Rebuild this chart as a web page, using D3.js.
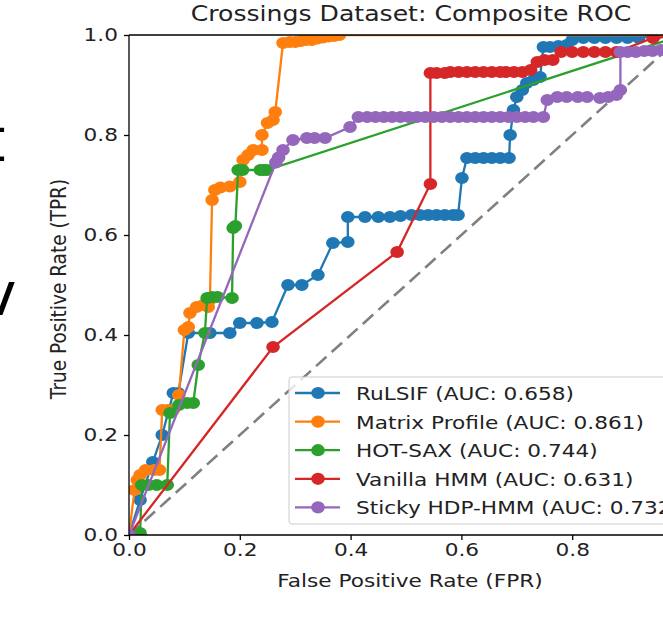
<!DOCTYPE html>
<html lang="en">
  <head>
    <meta charset="utf-8">
    <title>Crossings Dataset: Composite ROC</title>
    <script src="https://d3js.org/d3.v7.min.js"></script>
    <style>
      body { margin: 0; background: #fff; }
      text { font-family: "DejaVu Sans", sans-serif; }
    </style>
  </head>
  <body>
    <div id="chart"></div>
    <script>

// ROC points, [FPR, TPR]
var rulsif = [[0,0],[0.02,0.07],[0.043,0.146],[0.06,0.2],[0.08,0.284],[0.089,0.284],[0.107,0.404],[0.146,0.404],[0.182,0.404],[0.2,0.424],[0.231,0.424],[0.258,0.426],[0.287,0.5],[0.312,0.5],[0.341,0.52],[0.368,0.584],[0.395,0.586],[0.395,0.636],[0.426,0.636],[0.45,0.636],[0.471,0.636],[0.49,0.638],[0.51,0.64],[0.525,0.64],[0.54,0.64],[0.555,0.64],[0.57,0.64],[0.585,0.64],[0.594,0.64],[0.601,0.714],[0.61,0.754],[0.625,0.754],[0.64,0.754],[0.655,0.754],[0.67,0.754],[0.686,0.754],[0.688,0.8],[0.694,0.85],[0.7,0.876],[0.71,0.89],[0.718,0.904],[0.73,0.91],[0.742,0.916],[0.748,0.976],[0.76,0.976],[0.775,0.978],[0.79,0.98],[0.8,0.99],[0.82,0.994],[0.84,0.994],[0.86,0.994],[0.88,0.994],[0.9,0.994],[0.92,0.994],[0.95,1],[1,1]];

var matrixProfile = [[0,0],[0.01,0.09],[0.015,0.11],[0.02,0.12],[0.03,0.13],[0.045,0.13],[0.055,0.13],[0.06,0.25],[0.07,0.25],[0.08,0.25],[0.09,0.28],[0.1,0.41],[0.107,0.416],[0.11,0.444],[0.122,0.456],[0.134,0.46],[0.143,0.456],[0.146,0.47],[0.15,0.67],[0.155,0.69],[0.165,0.695],[0.182,0.697],[0.2,0.706],[0.206,0.75],[0.215,0.76],[0.224,0.77],[0.24,0.77],[0.24,0.8],[0.25,0.824],[0.26,0.83],[0.264,0.846],[0.278,0.984],[0.29,0.986],[0.3,0.986],[0.31,0.988],[0.32,0.99],[0.33,0.99],[0.34,0.993],[0.35,0.995],[0.36,0.997],[0.37,0.998],[0.38,1],[1,1]];

var hotSax = [[0,0],[0.02,0.004],[0.023,0.1],[0.035,0.1],[0.05,0.1],[0.069,0.1],[0.074,0.244],[0.09,0.26],[0.105,0.264],[0.116,0.264],[0.125,0.34],[0.137,0.404],[0.141,0.474],[0.15,0.476],[0.16,0.476],[0.186,0.474],[0.188,0.614],[0.192,0.618],[0.197,0.73],[0.205,0.73],[0.237,0.73],[0.243,0.73],[0.249,0.73],[1,1]];

var vanillaHmm = [[0,0],[0.26,0.376],[0.484,0.566],[0.544,0.702],[0.544,0.924],[0.555,0.924],[0.57,0.924],[0.58,0.926],[0.595,0.926],[0.61,0.926],[0.625,0.926],[0.64,0.926],[0.655,0.926],[0.67,0.926],[0.68,0.926],[0.695,0.926],[0.71,0.926],[0.725,0.93],[0.737,0.946],[0.75,0.95],[0.765,0.95],[0.78,0.966],[0.8,0.966],[0.82,0.966],[0.84,0.966],[0.86,0.966],[0.88,0.966],[0.946,0.994],[1,1]];

var stickyHdp = [[0,0],[0.265,0.745],[0.27,0.755],[0.278,0.77],[0.296,0.79],[0.321,0.794],[0.335,0.794],[0.354,0.794],[0.399,0.816],[0.414,0.836],[0.43,0.836],[0.445,0.836],[0.46,0.836],[0.475,0.836],[0.49,0.836],[0.505,0.836],[0.52,0.836],[0.535,0.836],[0.55,0.836],[0.565,0.836],[0.58,0.836],[0.595,0.836],[0.61,0.836],[0.625,0.836],[0.64,0.836],[0.655,0.836],[0.67,0.836],[0.685,0.836],[0.7,0.836],[0.715,0.836],[0.73,0.836],[0.748,0.836],[0.755,0.87],[0.773,0.876],[0.79,0.876],[0.81,0.876],[0.827,0.876],[0.85,0.874],[0.865,0.876],[0.88,0.88],[0.887,0.89],[0.887,0.966],[0.9,0.966],[0.915,0.966],[0.93,0.968],[0.945,0.968],[0.96,0.97],[0.975,0.97],[1,1]];

var seriesNames = ["RuLSIF (AUC: 0.658)", "Matrix Profile (AUC: 0.861)", "HOT-SAX (AUC: 0.744)", "Vanilla HMM (AUC: 0.631)", "Sticky HDP-HMM (AUC: 0.732)"];
var seriesColors = ["#1f77b4", "#ff7f0e", "#2ca02c", "#d62728", "#9467bd"];
var ticks = [0, 0.2, 0.4, 0.6, 0.8, 1.0];

var allSeries = [rulsif, matrixProfile, hotSax, vanillaHmm, stickyHdp];

//constants
var w = 663;
var h = 632;
var margin = {left: 129, top: 35};
var plotW = 554;   // plot runs past the right edge of the picture
var plotH = 500;
var sx = 1.17;     // the picture is stretched sideways, text too

var svg = d3.select("#chart").append("svg")
    .attr("width", w)
    .attr("height", h);

// put every text at its x/y through a transform, so it can be stretched
function stretch(sel) {
  sel.each(function() {
    var t = d3.select(this);
    var x = +t.attr("x") || 0, y = +t.attr("y") || 0;
    var rot = t.attr("data-rot");
    t.attr("x", 0).attr("y", 0)
     .attr("transform", `translate(${x}, ${y}) scale(${sx}, 1)` + (rot ? ` rotate(${rot})` : ""));
  });
}

// big cut-off text fragments at the left border
svg.append("text").attr("x", -18).attr("y", 161).attr("font-size", 60).attr("fill", "#000").text("t");
svg.append("text").attr("x", -19).attr("y", 315).attr("font-size", 60).attr("fill", "#000").text("v");

//Scales
var xScale = d3.scaleLinear().domain([0, 1]).range([0, plotW]);
var yScale = d3.scaleLinear().domain([0, 1]).range([plotH, 0]);

var g = svg.append("g").attr("transform", `translate(${margin.left}, ${margin.top})`);

g.append("clipPath").attr("id", "plotClip")
  .append("rect").attr("x", 0).attr("y", 0).attr("width", plotW).attr("height", plotH);

var plot = g.append("g").attr("clip-path", "url(#plotClip)");

// chance diagonal
plot.append("line")
    .attr("x1", xScale(0)).attr("y1", yScale(0))
    .attr("x2", xScale(1)).attr("y2", yScale(1))
    .attr("stroke", "#808080")
    .attr("stroke-width", 2.6)
    .attr("stroke-dasharray", "14,7");

var line = d3.line().x(d => xScale(d[0])).y(d => yScale(d[1]));

allSeries.forEach(function(data, i) {
  var s = plot.append("g");
  s.append("path")
    .attr("d", line(data))
    .attr("fill", "none")
    .attr("stroke", seriesColors[i])
    .attr("stroke-width", 2.3);
  s.selectAll("ellipse")
    .data(data)
    .enter().append("ellipse")
    .attr("cx", d => xScale(d[0]))
    .attr("cy", d => yScale(d[1]))
    .attr("rx", 6.8)
    .attr("ry", 6.1)
    .attr("fill", seriesColors[i]);
});

// axes
var xAxis = d3.axisBottom(xScale).tickValues(ticks).tickFormat(d3.format(".1f")).tickSize(5).tickPadding(3);
var yAxis = d3.axisLeft(yScale).tickValues(ticks).tickFormat(d3.format(".1f")).tickSize(5).tickPadding(6);

var xg = g.append("g").attr("transform", `translate(0, ${plotH})`).call(xAxis);
var yg = g.append("g").call(yAxis);
[xg, yg].forEach(function(a) {
  a.select(".domain").remove();
  a.selectAll("line").attr("stroke", "#000").attr("stroke-width", 1.3);
  a.selectAll("text").attr("font-size", 18.5).attr("fill", "#222").style("font-family", "DejaVu Sans").call(stretch);
});

// spines
g.append("line").attr("x1", 0).attr("y1", 0).attr("x2", 0).attr("y2", plotH).attr("stroke", "#000").attr("stroke-width", 1.3);
g.append("line").attr("x1", 0).attr("y1", plotH).attr("x2", plotW).attr("y2", plotH).attr("stroke", "#000").attr("stroke-width", 1.3);
g.append("line").attr("x1", 0).attr("y1", 0).attr("x2", plotW).attr("y2", 0).attr("stroke", "#000").attr("stroke-width", 1.3);

// labels
svg.append("text")
    .attr("x", 411).attr("y", 21)
    .attr("text-anchor", "middle").attr("font-size", 21.5).attr("fill", "#222")
    .text("Crossings Dataset: Composite ROC")
    .call(stretch);

svg.append("text")
    .attr("x", 410).attr("y", 587)
    .attr("text-anchor", "middle").attr("font-size", 18.5).attr("fill", "#222")
    .text("False Positive Rate (FPR)")
    .call(stretch);

svg.append("text")
    .attr("x", 66).attr("y", 289).attr("data-rot", -90)
    .attr("text-anchor", "middle").attr("font-size", 18.5).attr("fill", "#222")
    .text("True Positive Rate (TPR)")
    .call(stretch);

// legend
var legend = svg.append("g").attr("transform", "translate(289, 377)");
legend.append("rect")
    .attr("width", 420).attr("height", 147).attr("rx", 3)
    .attr("fill", "#fff").attr("fill-opacity", 0.8)
    .attr("stroke", "#cccccc").attr("stroke-width", 1);

var items = legend.selectAll(".item")
    .data(seriesNames)
    .enter().append("g")
    .attr("transform", (d, i) => `translate(0, ${16 + i * 28.6})`);
items.append("line").attr("x1", 6).attr("x2", 51).attr("y1", 0).attr("y2", 0)
    .attr("stroke", (d, i) => seriesColors[i]).attr("stroke-width", 2.3);
items.append("ellipse").attr("cx", 29).attr("cy", 0).attr("rx", 6.8).attr("ry", 6.1)
    .attr("fill", (d, i) => seriesColors[i]);
items.append("text").attr("x", 67).attr("y", 7).attr("font-size", 18.5).attr("fill", "#222")
    .text(d => d)
    .call(stretch);

    </script>
  </body>
</html>
